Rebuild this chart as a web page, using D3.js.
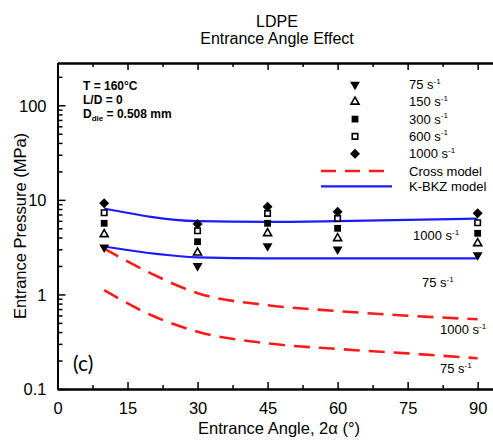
<!DOCTYPE html>
<html>
<head>
<meta charset="utf-8">
<script src="https://cdn.jsdelivr.net/npm/d3@7"></script>
<style>
  html, body { margin: 0; padding: 0; background: #fff; }
  svg { display: block; font-family: "Liberation Sans", Arial, sans-serif; }
</style>
</head>
<body>
<svg id="chart" width="493" height="444"></svg>
<script>
// Measured entrance pressures (MPa) vs entrance angle 2α (degrees)
const angles = [10, 30, 45, 60, 90];
const p75   = [3.15, 2.00, 3.25, 3.00, 2.61];
const p150  = [4.32, 2.76, 4.43, 3.92, 3.47];
const p300  = [5.65, 3.61, 5.65, 5.00, 4.43];
const p600  = [7.31, 4.71, 7.20, 6.37, 5.73];
const p1000 = [9.18, 5.55, 8.45, 7.48, 7.20];

// K-BKZ model predictions
const kbkzAngles = [10, 30, 45, 60, 90];
const kbkz1000 = [8.10, 5.95, 5.85, 5.95, 6.35];
const kbkz75   = [3.21, 2.47, 2.41, 2.41, 2.41];

// Cross model predictions
const crossAngles = [10, 20, 30, 45, 60, 75, 90];
const cross1000 = [3.05, 1.67, 1.03, 0.77, 0.667, 0.596, 0.546];
const cross75   = [1.11, 0.606, 0.404, 0.304, 0.265, 0.238, 0.211];

const xTicks = [0, 15, 30, 45, 60, 75, 90];
const yTicks = [0.1, 1, 10, 100];
const rateLabels = ["75", "150", "300", "600", "1000"];

const svg = d3.select("#chart");
const x = d3.scaleLinear([0, 95], [57.5, 501]);
const y = d3.scaleLog([0.1, 280], [389, 63]);

// Titles
svg.append("text").attr("x", 277).attr("y", 27).attr("text-anchor", "middle")
  .attr("font-size", 16).text("LDPE");
svg.append("text").attr("x", 277).attr("y", 44).attr("text-anchor", "middle")
  .attr("font-size", 16).text("Entrance Angle Effect");

// Axes (ticks point inward)
const minorX = d3.range(0, 96, 7.5).filter(v => v % 15 !== 0);
const minorY = [];
[0.1, 1, 10, 100].forEach(d => { for (let k = 2; k <= 9; k++) if (d * k <= 280) minorY.push(d * k); });

const gx = svg.append("g").attr("transform", `translate(0,${y.range()[0]})`);
gx.call(d3.axisBottom(x).tickValues(xTicks).tickSize(-7).tickPadding(13).tickSizeOuter(0));
gx.append("g").call(d3.axisBottom(x).tickValues(minorX).tickSize(-4).tickFormat("").tickSizeOuter(0));

const gt = svg.append("g").attr("transform", `translate(0,${y.range()[1]})`);
gt.call(d3.axisTop(x).tickValues(xTicks).tickSize(-7).tickFormat("").tickSizeOuter(0));
gt.append("g").call(d3.axisTop(x).tickValues(minorX).tickSize(-4).tickFormat("").tickSizeOuter(0));

const gy = svg.append("g").attr("transform", `translate(${x.range()[0]},0)`);
gy.call(d3.axisLeft(y).tickValues(yTicks).tickSize(-8).tickPadding(11)
  .tickFormat(d => String(d)).tickSizeOuter(0));
gy.append("g").call(d3.axisLeft(y).tickValues(minorY).tickSize(-5).tickFormat("").tickSizeOuter(0));

svg.selectAll(".domain").attr("stroke", "#000").attr("stroke-width", 2);
svg.selectAll(".tick line").attr("stroke", "#000").attr("stroke-width", 1.5);
svg.selectAll(".tick text").attr("font-size", 16.5).attr("fill", "#000")
  .attr("font-family", "Liberation Sans, Arial, sans-serif");
gy.selectAll(".tick text").attr("dy", "0.36em");

// Axis titles
svg.append("text").attr("x", 279).attr("y", 434).attr("text-anchor", "middle")
  .attr("font-size", 16.5).text("Entrance Angle, 2α (°)");
svg.append("text").attr("transform", "translate(26,226) rotate(-90)")
  .attr("text-anchor", "middle").attr("font-size", 16.5).text("Entrance Pressure (MPa)");

// Model curves
const line = (xs, ys) => d3.line().x((d, i) => x(xs[i])).y(d => y(d)).curve(d3.curveMonotoneX)(ys);

[cross1000, cross75].forEach(s => {
  svg.append("path").attr("d", line(crossAngles, s)).attr("fill", "none")
    .attr("stroke", "#ff1a1a").attr("stroke-width", 2.6).attr("stroke-dasharray", "16,9");
});
[kbkz1000, kbkz75].forEach(s => {
  svg.append("path").attr("d", line(kbkzAngles, s)).attr("fill", "none")
    .attr("stroke", "#1a1aff").attr("stroke-width", 2.2);
});

// Marker styles per shear rate
const markers = [
  { type: d3.symbolTriangle, size: 42, rot: 180, fill: "#000", stroke: "none" },
  { type: d3.symbolTriangle, size: 28, rot: 0, fill: "#fff", stroke: "#000" },
  { type: d3.symbolSquare, size: 46, rot: 0, fill: "#000", stroke: "none" },
  { type: d3.symbolSquare, size: 30, rot: 0, fill: "#fff", stroke: "#000" },
  { type: d3.symbolSquare, size: 50, rot: 45, fill: "#000", stroke: "none" }
];
const series = [p75, p150, p300, p600, p1000];

function drawMarker(g, m, cx, cy) {
  g.append("path").attr("d", d3.symbol(m.type, m.size)())
    .attr("transform", `translate(${cx},${cy}) rotate(${m.rot})`)
    .attr("fill", m.fill).attr("stroke", m.stroke).attr("stroke-width", 1.6);
}

const gm = svg.append("g");
series.forEach((s, k) => {
  s.forEach((v, i) => drawMarker(gm, markers[k], x(angles[i]), y(v)));
});

// Superscripted rate label, e.g. "75 s⁻¹"
function rateText(g, tx, ty, base, size) {
  const t = g.append("text").attr("x", tx).attr("y", ty).attr("font-size", size);
  t.append("tspan").text(base + " s");
  t.append("tspan").attr("dy", -size * 0.42).attr("font-size", size * 0.62).text("-1");
  return t;
}

// Legend
const lg = svg.append("g");
const legY0 = 84.5, legStep = 17.3;
rateLabels.forEach((r, i) => {
  const cy = legY0 + i * legStep;
  drawMarker(lg, markers[i], 355, cy);
  rateText(lg, 409, cy + 4.5, r, 13);
});
const crossY = legY0 + 5 * legStep, kbkzY = legY0 + 6 * legStep - 2;
lg.append("line").attr("x1", 321).attr("x2", 384).attr("y1", crossY).attr("y2", crossY)
  .attr("stroke", "#ff1a1a").attr("stroke-width", 2.5).attr("stroke-dasharray", "15,9");
lg.append("text").attr("x", 409).attr("y", crossY + 4.5).attr("font-size", 13).text("Cross model");
lg.append("line").attr("x1", 321).attr("x2", 392).attr("y1", kbkzY).attr("y2", kbkzY)
  .attr("stroke", "#1a1aff").attr("stroke-width", 2.2);
lg.append("text").attr("x", 409).attr("y", kbkzY + 4.5).attr("font-size", 13).text("K-BKZ model");

// Curve annotations
rateText(svg, 413, 240, "1000", 13);
rateText(svg, 422, 287, "75", 13);
rateText(svg, 440, 334, "1000", 13);
rateText(svg, 440, 373, "75", 13);

// Test conditions
const cond = svg.append("g").attr("font-size", 12).attr("font-weight", "bold");
cond.append("text").attr("x", 83).attr("y", 89.5).text("T = 160°C");
cond.append("text").attr("x", 83).attr("y", 103.5).text("L/D = 0");
const dt = cond.append("text").attr("x", 83).attr("y", 117.5);
dt.append("tspan").text("D");
dt.append("tspan").attr("dy", 3).attr("font-size", 8).text("die");
dt.append("tspan").attr("dy", -3).text(" = 0.508 mm");

// Panel tag
svg.append("text").attr("x", 73).attr("y", 371).attr("font-size", 21)
  .attr("font-family", "Lato, 'Open Sans', sans-serif").text("(c)");
</script>
</body>
</html>
